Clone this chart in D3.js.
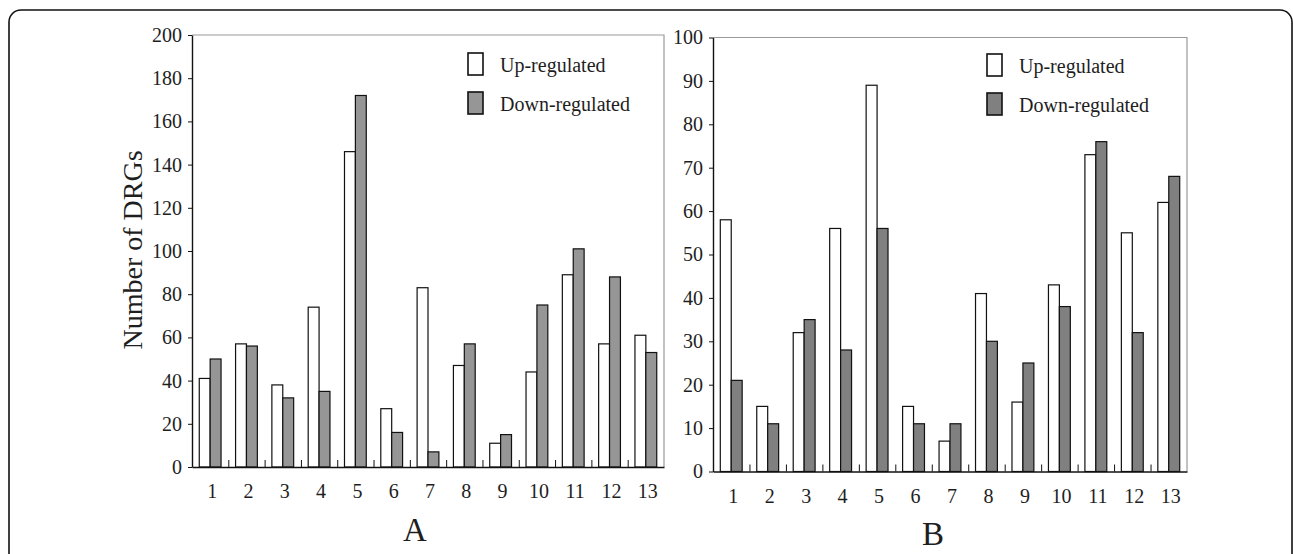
<!DOCTYPE html>
<html>
<head>
<meta charset="utf-8">
<script src="https://cdn.jsdelivr.net/npm/d3@7/dist/d3.min.js"></script>
<style>
  body { margin: 0; background: #fff; }
  svg text { font-family: "Liberation Serif", "Times New Roman", serif; fill: #1e1e1e; }
  .axis path, .axis line { stroke: #111; }
</style>
</head>
<body>
<svg id="chart" width="1293" height="554"></svg>
<script>
// Categories along the x axis (same in both panels)
var categories = ['1', '2', '3', '4', '5', '6', '7', '8', '9', '10', '11', '12', '13'];

// Panel A values
var upA   = [41, 57, 38, 74, 146, 27, 83, 47, 11, 44, 89, 57, 61];
var downA = [50, 56, 32, 35, 172, 16, 7, 57, 15, 75, 101, 88, 53];

// Panel B values
var upB   = [58, 15, 32, 56, 89, 15, 7, 41, 16, 43, 73, 55, 62];
var downB = [21, 11, 35, 28, 56, 11, 11, 30, 25, 38, 76, 32, 68];

// Tick labels
var yTicksA = [0, 20, 40, 60, 80, 100, 120, 140, 160, 180, 200];
var yTicksB = [0, 10, 20, 30, 40, 50, 60, 70, 80, 90, 100];

var seriesNames = ['Up-regulated', 'Down-regulated'];

var svg = d3.select('#chart');

// Outer rounded frame (bottom runs off the picture)
svg.append('rect')
    .attr('x', 9)
    .attr('y', 10)
    .attr('width', 1283)
    .attr('height', 620)
    .attr('rx', 12)
    .attr('fill', 'none')
    .attr('stroke', '#111')
    .attr('stroke-width', 1.6);

function drawPanel(opts) {
    var w = opts.right - opts.left;
    var h = opts.bottom - opts.top;

    var g = svg.append('g')
        .attr('transform', 'translate(' + [opts.left, opts.top] + ')');

    var x0 = d3.scaleBand()
        .domain(categories)
        .range([0, w]);

    var x1 = d3.scaleBand()
        .domain(['up', 'down'])
        .range([x0.bandwidth() * 0.2, x0.bandwidth() * 0.8]);

    var y = d3.scaleLinear()
        .domain([0, opts.max])
        .range([h, 0]);

    // grey top and right frame of the plot
    g.append('path')
        .attr('d', 'M0,0H' + w + 'V' + h)
        .attr('fill', 'none')
        .attr('stroke', '#9a9a9a')
        .attr('stroke-width', 1.2);

    var rows = categories.map(function(c, i) {
        return {cat: c, up: opts.up[i], down: opts.down[i]};
    });

    var groups = g.selectAll('.grp')
        .data(rows)
        .enter()
        .append('g')
        .attr('class', 'grp')
        .attr('transform', function(d) { return 'translate(' + x0(d.cat) + ',0)'; });

    groups.selectAll('rect')
        .data(function(d) {
            return [{key: 'up', value: d.up}, {key: 'down', value: d.down}];
        })
        .enter()
        .append('rect')
        .attr('x', function(d) { return x1(d.key); })
        .attr('y', function(d) { return y(d.value); })
        .attr('width', x1.bandwidth())
        .attr('height', function(d) { return h - y(d.value); })
        .attr('fill', function(d) { return d.key === 'up' ? '#fff' : opts.downColor; })
        .attr('stroke', '#111')
        .attr('stroke-width', 1.2);

    // small ticks between the categories, pointing up
    var boundary = d3.scaleLinear().domain([0, categories.length]).range([0, w]);
    g.append('g')
        .attr('class', 'axis')
        .attr('transform', 'translate(0,' + h + ')')
        .call(d3.axisBottom(boundary)
            .tickValues(d3.range(1, categories.length))
            .tickSize(-7)
            .tickSizeOuter(0)
            .tickFormat(''))
        .call(function(a) { a.select('.domain').attr('stroke-width', 1.6); });

    // category labels
    g.append('g')
        .attr('class', 'axis')
        .attr('transform', 'translate(0,' + h + ')')
        .call(d3.axisBottom(x0).tickSize(0).tickPadding(opts.labelPad))
        .call(function(a) {
            a.select('.domain').remove();
            a.selectAll('text').style('font-size', '20px').attr('dx', '0.1em');
        });

    // y axis
    g.append('g')
        .attr('class', 'axis')
        .call(d3.axisLeft(y).tickValues(opts.ticks).tickSize(4).tickSizeOuter(0).tickPadding(6))
        .call(function(a) {
            a.select('.domain').attr('stroke-width', 1.4);
            a.selectAll('text').style('font-size', '20px');
        });

    // legend
    var leg = g.append('g')
        .attr('transform', 'translate(' + (w - opts.legendOffset) + ',' + opts.legendTop + ')');
    seriesNames.forEach(function(name, i) {
        leg.append('rect')
            .attr('x', 0)
            .attr('y', i * 39)
            .attr('width', 15)
            .attr('height', 22)
            .attr('fill', i === 0 ? '#fff' : opts.downColor)
            .attr('stroke', '#111')
            .attr('stroke-width', 1.6);
        leg.append('text')
            .attr('x', 32)
            .attr('y', i * 39 + 19)
            .style('font-size', '20px')
            .text(name);
    });

    // panel letter
    svg.append('text')
        .attr('x', opts.letterX)
        .attr('y', opts.letterY)
        .attr('text-anchor', 'middle')
        .style('font-size', '33px')
        .text(opts.letter);
}

drawPanel({
    left: 192, right: 664, top: 35, bottom: 467,
    max: 200, ticks: yTicksA, up: upA, down: downA,
    downColor: '#969696', labelPad: 17,
    legendOffset: 196, legendTop: 18,
    letter: 'A', letterX: 415, letterY: 541
});

drawPanel({
    left: 713, right: 1187, top: 37.5, bottom: 471.5,
    max: 100, ticks: yTicksB, up: upB, down: downB,
    downColor: '#808080', labelPad: 17,
    legendOffset: 200, legendTop: 16.5,
    letter: 'B', letterX: 933, letterY: 545
});

// y axis title of panel A
svg.append('text')
    .attr('transform', 'translate(142,250) rotate(-90)')
    .attr('text-anchor', 'middle')
    .style('font-size', '28px')
    .text('Number of DRGs');
</script>
</body>
</html>
